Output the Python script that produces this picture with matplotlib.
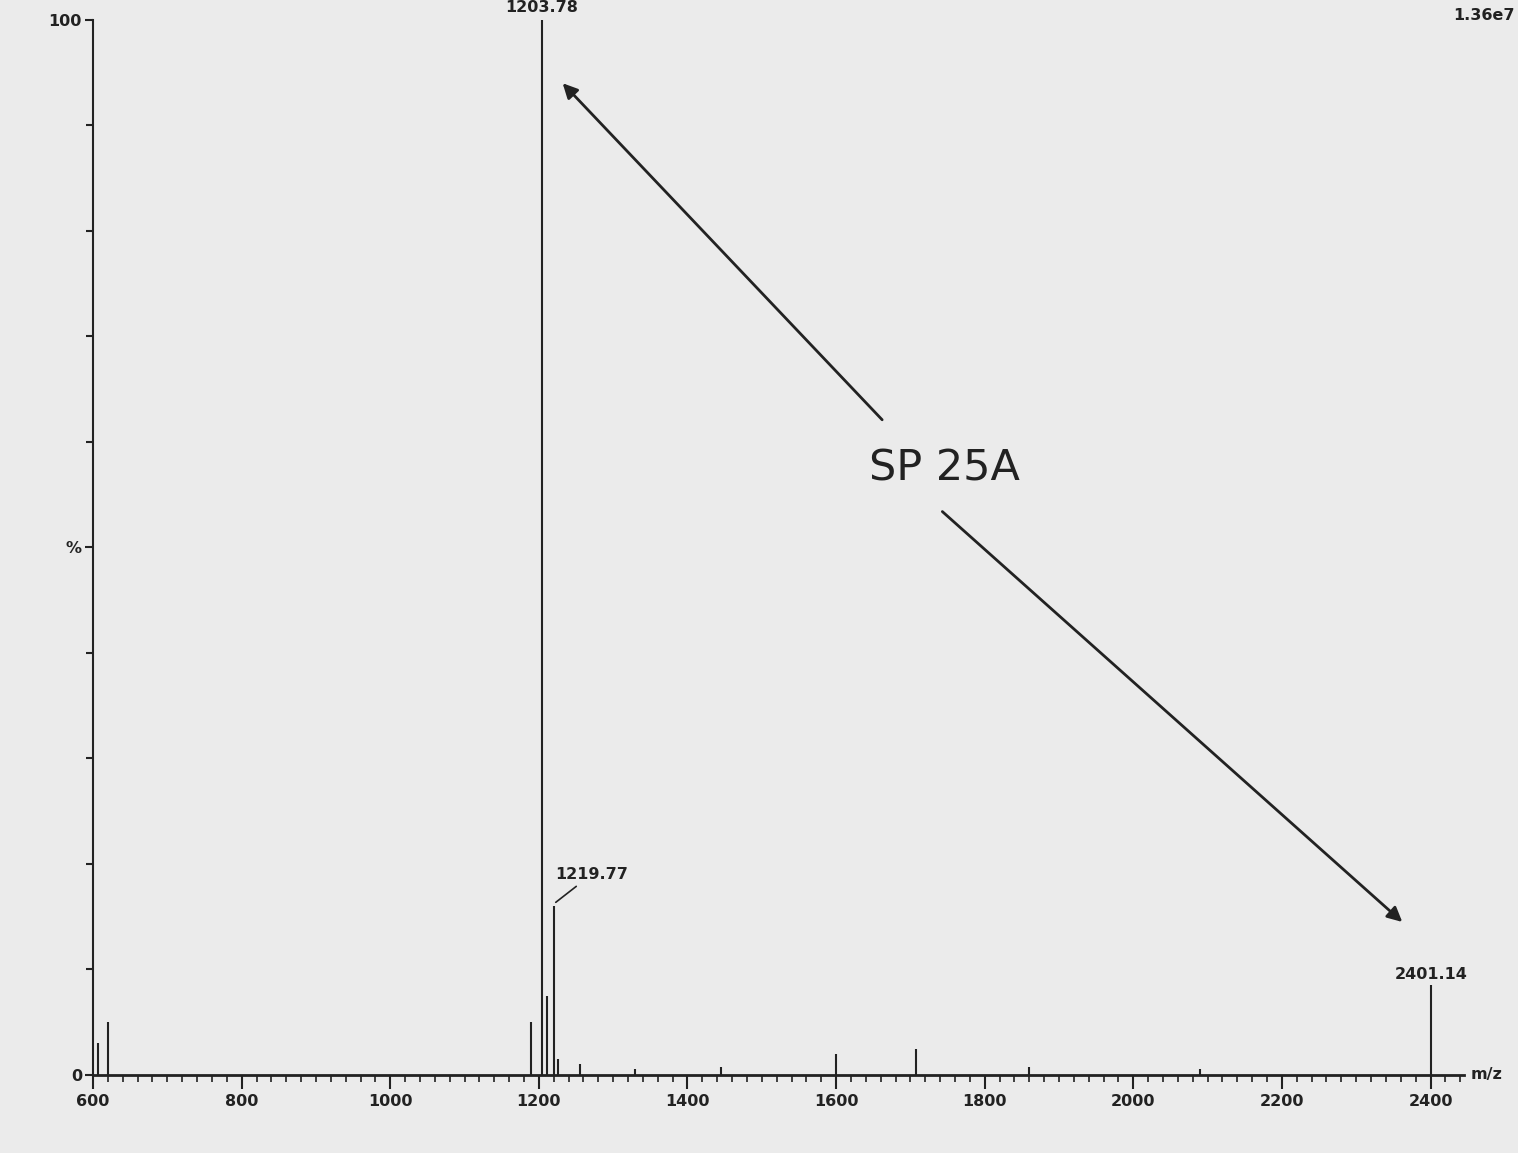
import matplotlib
matplotlib.use("Agg")
import matplotlib.pyplot as plt
import numpy as np
from matplotlib.ticker import MultipleLocator, FixedLocator, FixedFormatter

# Data (m/z, relative intensity %)
peak_mz = [606.7, 620.0, 1189.5, 1203.78, 1211.0, 1219.77, 1226.0, 1255.0, 1330.0,
           1445.0, 1600.0, 1708.0, 1860.0, 2090.0, 2401.14]
peak_int = [3.0, 5.0, 5.0, 100.0, 7.5, 16.0, 1.5, 1.0, 0.6,
            0.8, 2.0, 2.5, 0.8, 0.6, 8.5]
labeled_mz = [1203.78, 1219.77, 2401.14]
x_ticks = [600, 800, 1000, 1200, 1400, 1600, 1800, 2000, 2200, 2400]
x_tick_labels = ["600", "800", "1000", "1200", "1400", "1600", "1800", "2000", "2200", "2400"]
y_label_pos = [0, 50, 100]
y_label_txt = ["0", "%", "100"]
scale_text = "1.36e7"
title_text = "SP 25A"

bg = "#ebebeb"
fig = plt.figure(figsize=(15.18, 11.53), dpi=100, facecolor=bg)
ax = fig.add_axes([0.0613, 0.0677, 0.9031, 0.915], facecolor=bg)

ax.vlines(peak_mz, 0, peak_int, colors="#222222", linewidth=1.5)

ax.set_xlim(600, 2445)
ax.set_ylim(0, 100)

for s in ["top", "right"]:
    ax.spines[s].set_visible(False)
ax.spines["left"].set_color("#222222")
ax.spines["bottom"].set_color("#222222")
ax.spines["left"].set_linewidth(1.5)
ax.spines["bottom"].set_linewidth(2.0)

ax.xaxis.set_major_locator(FixedLocator(x_ticks))
ax.xaxis.set_major_formatter(FixedFormatter(x_tick_labels))
ax.xaxis.set_minor_locator(MultipleLocator(20))
ax.tick_params(axis="x", which="major", direction="out", length=10, width=1.5,
               colors="#222222", labelsize=11.5, pad=4)
ax.tick_params(axis="x", which="minor", direction="out", length=5, width=1.2, colors="#222222")
for lab in ax.get_xticklabels():
    lab.set_fontweight("bold")

ax.yaxis.set_major_locator(FixedLocator(y_label_pos))
ax.yaxis.set_major_formatter(FixedFormatter(y_label_txt))
ax.yaxis.set_minor_locator(MultipleLocator(10))
ax.tick_params(axis="y", which="major", direction="out", length=6, width=1.5,
               colors="#222222", labelsize=11.5, pad=2)
ax.tick_params(axis="y", which="minor", direction="out", length=5, width=1.5, colors="#222222")
for lab in ax.get_yticklabels():
    lab.set_fontweight("bold")

# m/z axis label
ax.text(1.005, 0.0, "m/z", transform=ax.transAxes, ha="left", va="center",
        fontsize=11.5, fontweight="bold", color="#222222")

# Peak labels
ax.text(labeled_mz[0], 100.5, "1203.78", ha="center", va="bottom", fontsize=11.5,
        fontweight="bold", color="#222222", clip_on=False)
ax.annotate("1219.77", xy=(labeled_mz[1], 16.2), xytext=(1222, 18.3),
            ha="left", va="bottom", fontsize=11.5, fontweight="bold", color="#222222",
            arrowprops=dict(arrowstyle="-", color="#222222", lw=1.2))
ax.text(labeled_mz[2], 8.8, "2401.14", ha="center", va="bottom", fontsize=11.5,
        fontweight="bold", color="#222222")

# Scale text top right
fig.text(0.998, 0.993, scale_text, ha="right", va="top", fontsize=11.5,
         fontweight="bold", color="#222222")

# Arrow with label
ax.annotate("", xy=(1232, 94.0), xytext=(1662, 62.1),
            arrowprops=dict(arrowstyle="-|>", color="#222222", lw=2.0,
                            mutation_scale=22, shrinkA=0, shrinkB=0))
ax.annotate("", xy=(2362, 14.5), xytext=(1743, 53.4),
            arrowprops=dict(arrowstyle="-|>", color="#222222", lw=2.0,
                            mutation_scale=22, shrinkA=0, shrinkB=0))
ax.text(1746, 57.5, title_text, ha="center", va="center", fontsize=31,
        color="#222222", family="DejaVu Sans")

fig.savefig("out.png", dpi=100, facecolor=bg)
